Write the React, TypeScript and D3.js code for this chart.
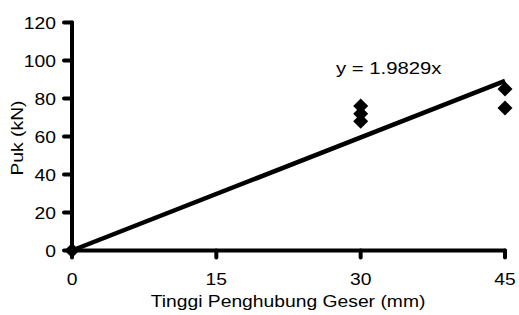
import React from "react";
import * as d3 from "d3";

const xTicks = [0, 15, 30, 45];
const yTicks = [0, 20, 40, 60, 80, 100, 120];
const pointX = [0, 30, 30, 30, 45, 45];
const pointY = [0, 76, 72, 68, 85, 75];
const slope = 1.9829;
const equationLabel = "y = 1.9829x";
const xTitle = "Tinggi Penghubung Geser (mm)";
const yTitle = "Puk (kN)";

const W = 519;
const H = 315;
const FONT = "'Liberation Sans', Arial, sans-serif";
const FS = 16.5;
const SX = 1.17;

export default function App() {
  const x = d3.scaleLinear().domain([0, 45]).range([72, 505]);
  const y = d3.scaleLinear().domain([0, 120]).range([250.5, 22.5]);
  const line = d3.line<number>().x((d) => x(d)).y((d) => y(slope * d));
  const txt = (tx: number, ty: number, s: string, anchor: string, sx: number = SX) => (
    <text
      transform={`translate(${tx},${ty}) scale(${sx},1)`}
      textAnchor={anchor}
      fontFamily={FONT}
      fontSize={FS}
      fill="#000"
    >
      {s}
    </text>
  );
  const r = 7.5;
  return (
    <svg width={W} height={H} style={{ position: "absolute", left: 0, top: 0, background: "#fff" }}>
      <line x1={x(0)} x2={x(0)} y1={y(120)} y2={y(0)} stroke="#000" strokeWidth={4} strokeLinecap="round" />
      <line x1={x(0)} x2={x(45)} y1={y(0)} y2={y(0)} stroke="#000" strokeWidth={4} strokeLinecap="round" />
      {yTicks.map((t) => (
        <g key={"yt" + t}>
          <line x1={x(0) - 8} x2={x(0)} y1={y(t)} y2={y(t)} stroke="#000" strokeWidth={4} strokeLinecap="round" />
          {txt(x(0) - 16, y(t) + 6, String(t), "end")}
        </g>
      ))}
      {xTicks.map((t) => (
        <g key={"xt" + t}>
          <line x1={x(t)} x2={x(t)} y1={y(0)} y2={y(0) + 7} stroke="#000" strokeWidth={4} strokeLinecap="round" />
          {txt(x(t), 285, String(t), "middle")}
        </g>
      ))}
      <path d={line([0, 45]) || ""} stroke="#000" strokeWidth={4.5} fill="none" />
      {pointX.map((px, i) => {
        const cx = x(px);
        const cy = y(pointY[i]);
        return (
          <path
            key={"p" + i}
            d={`M${cx},${cy - r}L${cx + r},${cy}L${cx},${cy + r}L${cx - r},${cy}Z`}
            fill="#000"
          />
        );
      })}
      {txt(336, 74, equationLabel, "start", 1.23)}
      {txt(288, 307, xTitle, "middle")}
      <text
        transform={`translate(23,138) rotate(-90) scale(${SX},1)`}
        textAnchor="middle"
        fontFamily={FONT}
        fontSize={FS}
        fill="#000"
      >
        {yTitle}
      </text>
    </svg>
  );
}
